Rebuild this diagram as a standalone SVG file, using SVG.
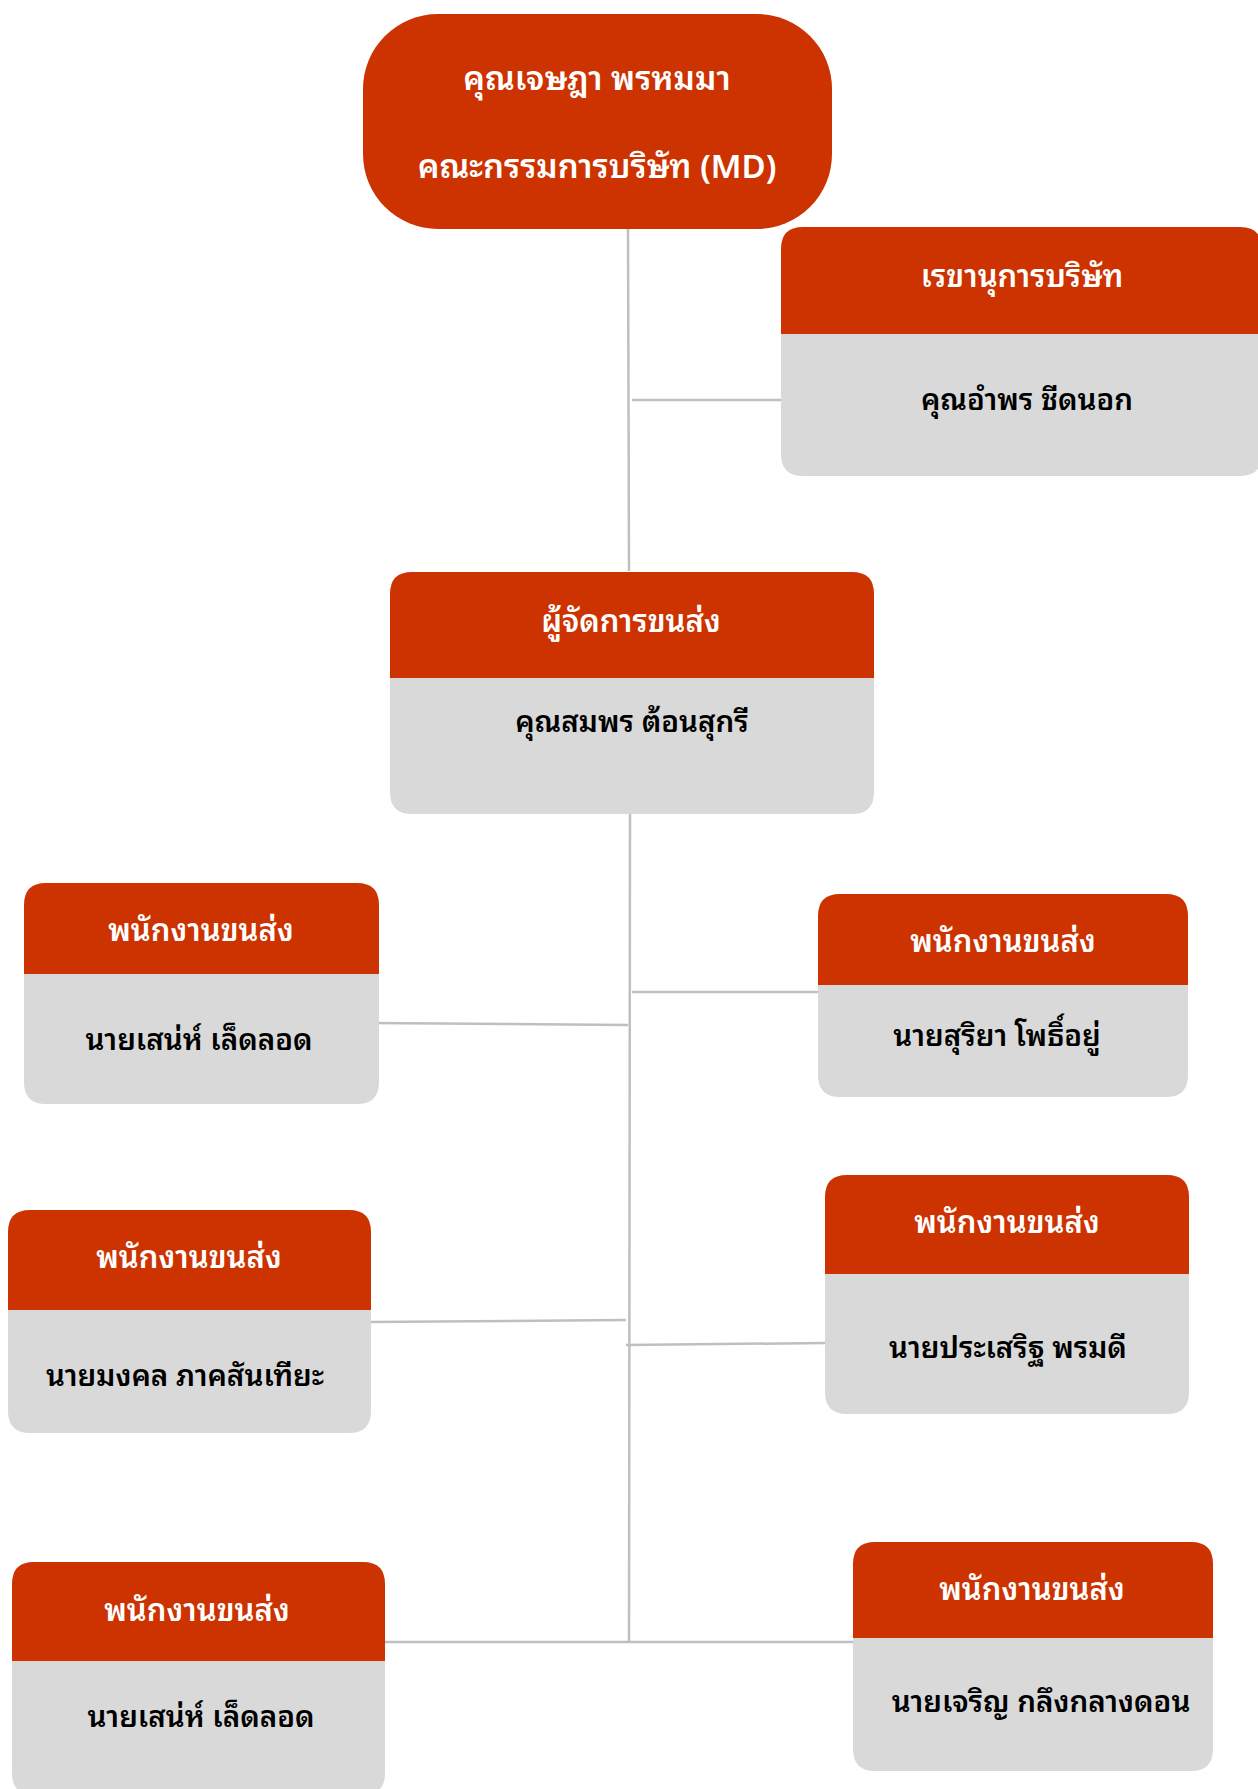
<svg xmlns="http://www.w3.org/2000/svg" width="1258" height="1789" viewBox="0 0 1258 1789">
<style>
.hdr{fill:#CC3300}
.bd{fill:#D9D9D9}
.t{font-family:"Noto Sans Thai Looped","Loma","Garuda","Waree","Tahoma","Leelawadee UI","Noto Sans Thai","Noto Sans",sans-serif;font-size:31px;font-weight:600;text-anchor:middle}
.top{font-size:33px}
.n{font-size:29.5px}
.w{fill:#FFFFFF}
.k{fill:#000000}
.c{stroke:#BFBFBF;stroke-width:2.5;fill:none}
</style>
<rect width="1258" height="1789" fill="#FFFFFF"/>
<g id="connectors">
<path class="c" d="M628,229 L629,571"/>
<path class="c" d="M632,400 L781,400"/>
<path class="c" d="M630,814 L629,1642"/>
<path class="c" d="M371,1023 L628,1025"/>
<path class="c" d="M632,992 L818,992"/>
<path class="c" d="M369,1322 L626,1320"/>
<path class="c" d="M626,1345 L825,1343"/>
<path class="c" d="M385,1642 L860,1642"/>
</g>
<g id="md">
<rect class="hdr" x="363" y="14" width="469" height="215" rx="75" ry="75"/>
<text class="t top w" x="597" y="90">คุณเจษฎา พรหมมา</text>
<text class="t top w" x="597" y="178">คณะกรรมการบริษัท (MD)</text>
</g>
<g id="secretary">
<path class="hdr" d="M781,334 V249 Q781,227 803,227 H1240 Q1262,227 1262,249 V334 Z"/>
<path class="bd" d="M781,334 H1262 V454 Q1262,476 1240,476 H803 Q781,476 781,454 Z"/>
<text class="t w" x="1022" y="287">เรขานุการบริษัท</text>
<text class="t n k" x="1027" y="410">คุณอำพร ชีดนอก</text>
</g>
<g id="manager">
<path class="hdr" d="M390,678 V594 Q390,572 412,572 H852 Q874,572 874,594 V678 Z"/>
<path class="bd" d="M390,678 H874 V792 Q874,814 852,814 H412 Q390,814 390,792 Z"/>
<text class="t w" x="631" y="632">ผู้จัดการขนส่ง</text>
<text class="t n k" x="632" y="732">คุณสมพร ต้อนสุกรี</text>
</g>
<g id="staff1">
<path class="hdr" d="M24,974 V905 Q24,883 46,883 H357 Q379,883 379,905 V974 Z"/>
<path class="bd" d="M24,974 H379 V1082 Q379,1104 357,1104 H46 Q24,1104 24,1082 Z"/>
<text class="t w" x="201" y="941">พนักงานขนส่ง</text>
<text class="t n k" x="199" y="1050">นายเสน่ห์ เล็ดลอด</text>
</g>
<g id="staff2">
<path class="hdr" d="M818,985 V916 Q818,894 840,894 H1166 Q1188,894 1188,916 V985 Z"/>
<path class="bd" d="M818,985 H1188 V1075 Q1188,1097 1166,1097 H840 Q818,1097 818,1075 Z"/>
<text class="t w" x="1003" y="952">พนักงานขนส่ง</text>
<text class="t n k" x="997" y="1046">นายสุริยา โพธิ์อยู่</text>
</g>
<g id="staff3">
<path class="hdr" d="M8,1310 V1232 Q8,1210 30,1210 H349 Q371,1210 371,1232 V1310 Z"/>
<path class="bd" d="M8,1310 H371 V1411 Q371,1433 349,1433 H30 Q8,1433 8,1411 Z"/>
<text class="t w" x="189" y="1268">พนักงานขนส่ง</text>
<text class="t n k" x="185" y="1386">นายมงคล ภาคสันเทียะ</text>
</g>
<g id="staff4">
<path class="hdr" d="M825,1274 V1197 Q825,1175 847,1175 H1167 Q1189,1175 1189,1197 V1274 Z"/>
<path class="bd" d="M825,1274 H1189 V1392 Q1189,1414 1167,1414 H847 Q825,1414 825,1392 Z"/>
<text class="t w" x="1007" y="1233">พนักงานขนส่ง</text>
<text class="t n k" x="1008" y="1358">นายประเสริฐ พรมดี</text>
</g>
<g id="staff5">
<path class="hdr" d="M12,1661 V1584 Q12,1562 34,1562 H363 Q385,1562 385,1584 V1661 Z"/>
<path class="bd" d="M12,1661 H385 V1773 Q385,1795 363,1795 H34 Q12,1795 12,1773 Z"/>
<text class="t w" x="197" y="1621">พนักงานขนส่ง</text>
<text class="t n k" x="201" y="1727">นายเสน่ห์ เล็ดลอด</text>
</g>
<g id="staff6">
<path class="hdr" d="M853,1638 V1564 Q853,1542 875,1542 H1191 Q1213,1542 1213,1564 V1638 Z"/>
<path class="bd" d="M853,1638 H1213 V1749 Q1213,1771 1191,1771 H875 Q853,1771 853,1749 Z"/>
<text class="t w" x="1032" y="1600">พนักงานขนส่ง</text>
<text class="t n k" x="1041" y="1712">นายเจริญ กลึงกลางดอน</text>
</g>
</svg>
